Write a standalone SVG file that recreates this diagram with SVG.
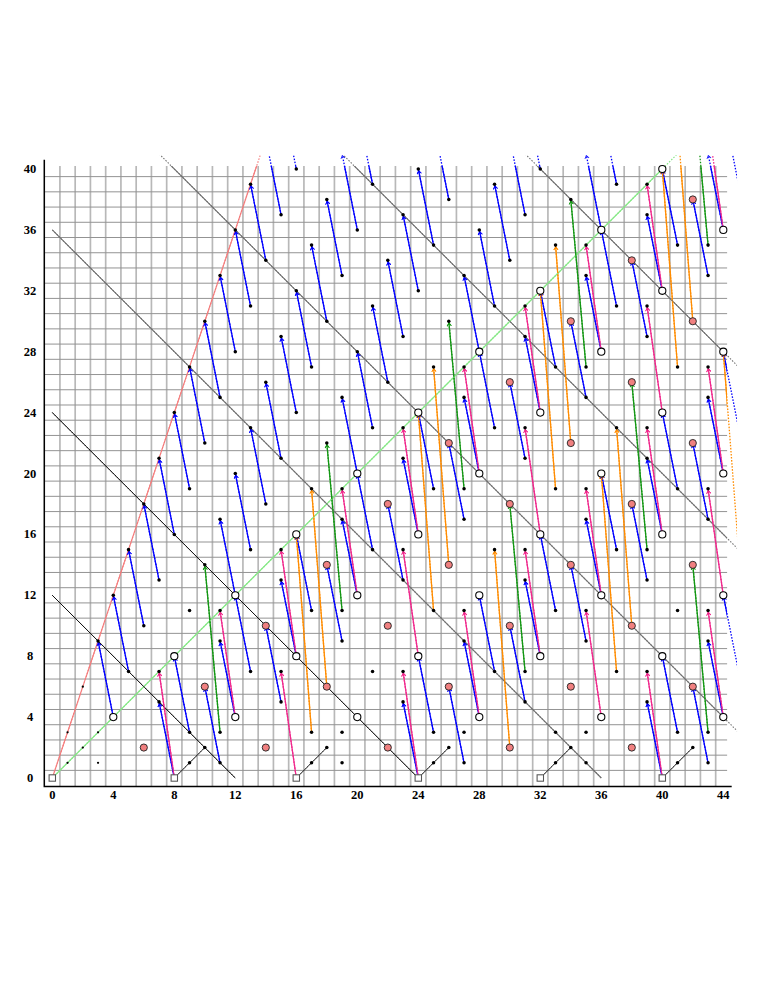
<svg xmlns="http://www.w3.org/2000/svg" width="765" height="990" viewBox="0 0 765 990">
<style>
.gv{stroke:#b8b8b8;stroke-width:.11;fill:none}
.gh{stroke:#929292;stroke-width:.065;fill:none}
.ax{stroke:#000;stroke-width:.1;fill:none}
.red{stroke:#f47c7c;stroke-width:.075;fill:none}
.lg{stroke:#86e886;stroke-width:.08;fill:none}
.dk{stroke:#111;stroke-width:.065;fill:none}
.gr{stroke:#707070;stroke-width:.07;fill:none}
.sl{stroke:#333;stroke-width:.065;fill:none}
.cb{stroke:#0000ff;stroke-width:.085;fill:none;marker-end:url(#mb)}
.cp{stroke:#f0288c;stroke-width:.085;fill:none;marker-end:url(#mp)}
.cg{stroke:#139613;stroke-width:.085;fill:none;marker-end:url(#mg)}
.co{stroke:#ff8c00;stroke-width:.085;fill:none;marker-end:url(#mo)}
text{font-family:"Liberation Serif","DejaVu Serif",serif;font-weight:bold;font-size:12.5px;fill:#000;text-anchor:middle}
</style>
<defs>
<clipPath id="cin"><rect x="-2" y="-2" width="46.25" height="42.2"/></clipPath>
<clipPath id="cout"><rect x="-2" y="-2" width="46.9" height="42.9"/></clipPath>
<marker id="mb" markerUnits="userSpaceOnUse" orient="auto" overflow="visible" markerWidth="1" markerHeight="1"><path d="M-.07 0L-.3 .16L-.33 .12L-.17 0L-.33 -.12L-.3 -.16Z" fill="#0000ff"/></marker>
<marker id="mp" markerUnits="userSpaceOnUse" orient="auto" overflow="visible" markerWidth="1" markerHeight="1"><path d="M-.07 0L-.3 .16L-.33 .12L-.17 0L-.33 -.12L-.3 -.16Z" fill="#f0288c"/></marker>
<marker id="mg" markerUnits="userSpaceOnUse" orient="auto" overflow="visible" markerWidth="1" markerHeight="1"><path d="M-.07 0L-.3 .16L-.33 .12L-.17 0L-.33 -.12L-.3 -.16Z" fill="#139613"/></marker>
<marker id="mo" markerUnits="userSpaceOnUse" orient="auto" overflow="visible" markerWidth="1" markerHeight="1"><path d="M-.07 0L-.3 .16L-.33 .12L-.17 0L-.33 -.12L-.3 -.16Z" fill="#ff8c00"/></marker>
<circle id="dt" r=".115" fill="#000"/>
<circle id="sd" r=".075" fill="#000"/>
<circle id="oc" r=".235" fill="#fff" stroke="#000" stroke-width=".07"/>
<circle id="rc" r=".235" fill="#f08080" stroke="#222" stroke-width=".06"/>
<rect id="sq" x="-.21" y="-.21" width=".42" height=".42" fill="#fff" stroke="#555" stroke-width=".07"/>
</defs>
<g transform="matrix(15.25 0 0 -15.225 52.3 778)">
<g id="grid">
<path class="gv" d="M.5 -.56V40.2M1.5 -.56V40.2M2.5 -.56V40.2M3.5 -.56V40.2M4.5 -.56V40.2M5.5 -.56V40.2M6.5 -.56V40.2M7.5 -.56V40.2M8.5 -.56V40.2M9.5 -.56V40.2M10.5 -.56V40.2M11.5 -.56V40.2M12.5 -.56V40.2M13.5 -.56V40.2M14.5 -.56V40.2M15.5 -.56V40.2M16.5 -.56V40.2M17.5 -.56V40.2M18.5 -.56V40.2M19.5 -.56V40.2M20.5 -.56V40.2M21.5 -.56V40.2M22.5 -.56V40.2M23.5 -.56V40.2M24.5 -.56V40.2M25.5 -.56V40.2M26.5 -.56V40.2M27.5 -.56V40.2M28.5 -.56V40.2M29.5 -.56V40.2M30.5 -.56V40.2M31.5 -.56V40.2M32.5 -.56V40.2M33.5 -.56V40.2M34.5 -.56V40.2M35.5 -.56V40.2M36.5 -.56V40.2M37.5 -.56V40.2M38.5 -.56V40.2M39.5 -.56V40.2M40.5 -.56V40.2M41.5 -.56V40.2M42.5 -.56V40.2M43.5 -.56V40.2"/>
<path class="gh" d="M-.52 .5H44.25M-.52 1.5H44.25M-.52 2.5H44.25M-.52 3.5H44.25M-.52 4.5H44.25M-.52 5.5H44.25M-.52 6.5H44.25M-.52 7.5H44.25M-.52 8.5H44.25M-.52 9.5H44.25M-.52 10.5H44.25M-.52 11.5H44.25M-.52 12.5H44.25M-.52 13.5H44.25M-.52 14.5H44.25M-.52 15.5H44.25M-.52 16.5H44.25M-.52 17.5H44.25M-.52 18.5H44.25M-.52 19.5H44.25M-.52 20.5H44.25M-.52 21.5H44.25M-.52 22.5H44.25M-.52 23.5H44.25M-.52 24.5H44.25M-.52 25.5H44.25M-.52 26.5H44.25M-.52 27.5H44.25M-.52 28.5H44.25M-.52 29.5H44.25M-.52 30.5H44.25M-.52 31.5H44.25M-.52 32.5H44.25M-.52 33.5H44.25M-.52 34.5H44.25M-.52 35.5H44.25M-.52 36.5H44.25M-.52 37.5H44.25M-.52 38.5H44.25M-.52 39.5H44.25"/>
<path class="ax" d="M-.525 40.6V-.56H44.55"/>
</g>
<g clip-path="url(#cin)">
<g id="guides">
<path class="red" d="M0 0L14 42"/>
<path class="lg" d="M0 0L42 42"/>
<path class="dk" d="M0 12L12 0M0 24L24 0"/>
<path class="gr" d="M0 36L36 0M7 41L45 3M19 41L45 15M31 41L45 27"/>
<path class="sl" d="M8 0L10 2M16 0L18 2M24 0L26 2M32 0L34 2M40 0L42 2"/>
</g>
<g id="connectors">
<path class="cb" d="M4 4L3 9"/><path class="cb" d="M6 10L5 15"/><path class="cb" d="M12 12L11 17"/><path class="cb" d="M8 16L7 21"/><path class="cb" d="M14 18L13 23"/><path class="cb" d="M10 22L9 27"/><path class="cb" d="M20 20L19 25"/><path class="cb" d="M16 24L15 29"/><path class="cb" d="M12 28L11 33"/><path class="cb" d="M22 26L21 31"/><path class="cb" d="M18 30L17 35"/><path class="cb" d="M14 34L13 39"/><path class="cb" d="M28 28L27 33"/><path class="cb" d="M24 32L23 37"/><path class="cb" d="M20 36L19 41"/><path class="cb" d="M16 40L15 45"/><path class="cb" d="M30 34L29 39"/><path class="cb" d="M26 38L25 43"/><path class="cb" d="M36 36L35 41"/><path class="cb" d="M32 40L31 45"/>
<path class="cb" d="M5 7L4 12"/><path class="cb" d="M7 13L6 18"/><path class="cb" d="M9 19L8 24"/><path class="cb" d="M13 15L12 20"/><path class="cb" d="M11 25L10 30"/><path class="cb" d="M15 21L14 26"/><path class="cb" d="M13 31L12 36"/><path class="cb" d="M17 27L16 32"/><path class="cb" d="M21 23L20 28"/><path class="cb" d="M15 37L14 42"/><path class="cb" d="M19 33L18 38"/><path class="cb" d="M23 29L22 34"/><path class="cb" d="M21 39L20 44"/><path class="cb" d="M25 35L24 40"/><path class="cb" d="M29 31L28 36"/><path class="cb" d="M31 37L30 42"/><path class="cb" d="M37 39L36 44"/>
<path class="cb" d="M8 0L7 5"/><path class="cb" d="M12 4L11 9"/><path class="cb" d="M16 8L15 13"/><path class="cb" d="M20 12L19 17"/><path class="cb" d="M24 16L23 21"/><path class="cb" d="M28 20L27 25"/><path class="cb" d="M32 24L31 29"/><path class="cb" d="M36 28L35 33"/><path class="cb" d="M40 32L39 37"/><path class="cb" d="M44 36L43 41"/><path class="cb" d="M24 0L23 5"/><path class="cb" d="M28 4L27 9"/><path class="cb" d="M32 8L31 13"/><path class="cb" d="M36 12L35 17"/><path class="cb" d="M40 16L39 21"/><path class="cb" d="M44 20L43 25"/><path class="cb" d="M40 0L39 5"/><path class="cb" d="M44 4L43 9"/>
<path class="cb" d="M9 3L8 8"/><path class="cb" d="M13 7L12 12"/><path class="cb" d="M17 11L16 16"/><path class="cb" d="M21 15L20 20"/><path class="cb" d="M25 19L24 24"/><path class="cb" d="M29 23L28 28"/><path class="cb" d="M33 27L32 32"/><path class="cb" d="M37 31L36 36"/><path class="cb" d="M41 35L40 40"/><path class="cb" d="M45 39L44 44"/>
<path class="cb" d="M11 1L10 6"/><path class="cb" d="M15 5L14 10"/><path class="cb" d="M19 9L18 14"/><path class="cb" d="M23 13L22 18"/><path class="cb" d="M27 17L26 22"/><path class="cb" d="M31 21L30 26"/><path class="cb" d="M35 25L34 30"/><path class="cb" d="M39 29L38 34"/><path class="cb" d="M43 33L42 38"/>
<path class="cb" d="M25 3L24 8"/><path class="cb" d="M29 7L28 12"/><path class="cb" d="M33 11L32 16"/><path class="cb" d="M37 15L36 20"/><path class="cb" d="M41 19L40 24"/><path class="cb" d="M45 23L44 28"/>
<path class="cb" d="M27 1L26 6"/><path class="cb" d="M31 5L30 10"/><path class="cb" d="M35 9L34 14"/><path class="cb" d="M39 13L38 18"/><path class="cb" d="M43 17L42 22"/><path class="cb" d="M41 3L40 8"/><path class="cb" d="M45 7L44 12"/><path class="cb" d="M43 1L42 6"/>
<path class="cp" d="M8 0L7 7"/><path class="cp" d="M16 0L15 7"/><path class="cp" d="M24 0L23 7"/><path class="cp" d="M40 0L39 7"/><path class="cp" d="M12 4L11 11"/><path class="cp" d="M28 4L27 11"/><path class="cp" d="M36 4L35 11"/><path class="cp" d="M44 4L43 11"/><path class="cp" d="M16 8L15 15"/><path class="cp" d="M24 8L23 15"/><path class="cp" d="M32 8L31 15"/><path class="cp" d="M20 12L19 19"/><path class="cp" d="M36 12L35 19"/><path class="cp" d="M44 12L43 19"/><path class="cp" d="M24 16L23 23"/><path class="cp" d="M32 16L31 23"/><path class="cp" d="M40 16L39 23"/><path class="cp" d="M28 20L27 27"/><path class="cp" d="M44 20L43 27"/><path class="cp" d="M32 24L31 31"/><path class="cp" d="M40 24L39 31"/><path class="cp" d="M36 28L35 35"/><path class="cp" d="M40 32L39 39"/><path class="cp" d="M44 36L43 43"/>
<path class="cg" d="M11 3L10 14"/><path class="cg" d="M19 11L18 22"/><path class="cg" d="M27 19L26 30"/><path class="cg" d="M35 27L34 38"/><path class="cg" d="M43 35L42 46"/><path class="cg" d="M31 7L30 18"/><path class="cg" d="M39 15L38 26"/><path class="cg" d="M43 3L42 14"/>
<path class="co" d="M17 3L16 16"/><path class="co" d="M25 11L24 24"/><path class="co" d="M33 19L32 32"/><path class="co" d="M41 27L40 40"/><path class="co" d="M18 6L17 19"/><path class="co" d="M26 14L25 27"/><path class="co" d="M34 22L33 35"/><path class="co" d="M42 30L41 43"/><path class="co" d="M30 2L29 15"/><path class="co" d="M38 10L37 23"/><path class="co" d="M37 7L36 20"/><path class="co" d="M45 15L44 28"/>
</g>
</g>
<g clip-path="url(#cout)" stroke-dasharray=".1 .1">
<use href="#guides"/>
<use href="#connectors"/>
</g>
<g id="nodes">
<g id="n0-0"><use href="#sq" x="0" y="0"/></g><g id="n8-0"><use href="#sq" x="8" y="0"/></g><g id="n16-0"><use href="#sq" x="16" y="0"/></g><g id="n24-0"><use href="#sq" x="24" y="0"/></g><g id="n32-0"><use href="#sq" x="32" y="0"/></g><g id="n40-0"><use href="#sq" x="40" y="0"/></g>
<g id="n1-1"><use href="#sd" x="1" y="1"/></g><g id="n2-2"><use href="#sd" x="2" y="2"/></g><g id="n3-3"><use href="#sd" x="3" y="3"/></g><g id="n1-3"><use href="#sd" x="1" y="3"/></g><g id="n3-1"><use href="#sd" x="3" y="1"/></g><g id="n2-6"><use href="#sd" x="2" y="6"/></g>
<g id="n4-4"><use href="#oc" x="4" y="4"/></g><g id="n12-4"><use href="#oc" x="12" y="4"/></g><g id="n20-4"><use href="#oc" x="20" y="4"/></g><g id="n28-4"><use href="#oc" x="28" y="4"/></g><g id="n36-4"><use href="#oc" x="36" y="4"/></g><g id="n44-4"><use href="#oc" x="44" y="4"/></g>
<g id="n8-8"><use href="#oc" x="8" y="8"/></g><g id="n16-8"><use href="#oc" x="16" y="8"/></g><g id="n24-8"><use href="#oc" x="24" y="8"/></g><g id="n32-8"><use href="#oc" x="32" y="8"/></g><g id="n40-8"><use href="#oc" x="40" y="8"/></g>
<g id="n12-12"><use href="#oc" x="12" y="12"/></g><g id="n20-12"><use href="#oc" x="20" y="12"/></g><g id="n28-12"><use href="#oc" x="28" y="12"/></g><g id="n36-12"><use href="#oc" x="36" y="12"/></g><g id="n44-12"><use href="#oc" x="44" y="12"/></g>
<g id="n16-16"><use href="#oc" x="16" y="16"/></g><g id="n24-16"><use href="#oc" x="24" y="16"/></g><g id="n32-16"><use href="#oc" x="32" y="16"/></g><g id="n40-16"><use href="#oc" x="40" y="16"/></g>
<g id="n20-20"><use href="#oc" x="20" y="20"/></g><g id="n28-20"><use href="#oc" x="28" y="20"/></g><g id="n36-20"><use href="#oc" x="36" y="20"/></g><g id="n44-20"><use href="#oc" x="44" y="20"/></g>
<g id="n24-24"><use href="#oc" x="24" y="24"/></g><g id="n32-24"><use href="#oc" x="32" y="24"/></g><g id="n40-24"><use href="#oc" x="40" y="24"/></g>
<g id="n28-28"><use href="#oc" x="28" y="28"/></g><g id="n36-28"><use href="#oc" x="36" y="28"/></g><g id="n44-28"><use href="#oc" x="44" y="28"/></g>
<g id="n32-32"><use href="#oc" x="32" y="32"/></g><g id="n40-32"><use href="#oc" x="40" y="32"/></g><g id="n36-36"><use href="#oc" x="36" y="36"/></g><g id="n44-36"><use href="#oc" x="44" y="36"/></g><g id="n40-40"><use href="#oc" x="40" y="40"/></g>
<g id="n6-2"><use href="#rc" x="6" y="2"/></g><g id="n14-2"><use href="#rc" x="14" y="2"/></g><g id="n22-2"><use href="#rc" x="22" y="2"/></g><g id="n30-2"><use href="#rc" x="30" y="2"/></g><g id="n38-2"><use href="#rc" x="38" y="2"/></g>
<g id="n10-6"><use href="#rc" x="10" y="6"/></g><g id="n18-6"><use href="#rc" x="18" y="6"/></g><g id="n26-6"><use href="#rc" x="26" y="6"/></g><g id="n34-6"><use href="#rc" x="34" y="6"/></g><g id="n42-6"><use href="#rc" x="42" y="6"/></g>
<g id="n14-10"><use href="#rc" x="14" y="10"/></g><g id="n22-10"><use href="#rc" x="22" y="10"/></g><g id="n30-10"><use href="#rc" x="30" y="10"/></g><g id="n38-10"><use href="#rc" x="38" y="10"/></g>
<g id="n18-14"><use href="#rc" x="18" y="14"/></g><g id="n26-14"><use href="#rc" x="26" y="14"/></g><g id="n34-14"><use href="#rc" x="34" y="14"/></g><g id="n42-14"><use href="#rc" x="42" y="14"/></g>
<g id="n22-18"><use href="#rc" x="22" y="18"/></g><g id="n30-18"><use href="#rc" x="30" y="18"/></g><g id="n38-18"><use href="#rc" x="38" y="18"/></g>
<g id="n26-22"><use href="#rc" x="26" y="22"/></g><g id="n34-22"><use href="#rc" x="34" y="22"/></g><g id="n42-22"><use href="#rc" x="42" y="22"/></g>
<g id="n30-26"><use href="#rc" x="30" y="26"/></g><g id="n38-26"><use href="#rc" x="38" y="26"/></g><g id="n34-30"><use href="#rc" x="34" y="30"/></g><g id="n42-30"><use href="#rc" x="42" y="30"/></g><g id="n38-34"><use href="#rc" x="38" y="34"/></g><g id="n42-38"><use href="#rc" x="42" y="38"/></g>
<g id="n6-10"><use href="#dt" x="6" y="10"/></g><g id="n4-12"><use href="#dt" x="4" y="12"/></g><g id="n10-14"><use href="#dt" x="10" y="14"/></g><g id="n8-16"><use href="#dt" x="8" y="16"/></g><g id="n6-18"><use href="#dt" x="6" y="18"/></g><g id="n14-18"><use href="#dt" x="14" y="18"/></g><g id="n12-20"><use href="#dt" x="12" y="20"/></g><g id="n10-22"><use href="#dt" x="10" y="22"/></g><g id="n8-24"><use href="#dt" x="8" y="24"/></g>
<g id="n18-22"><use href="#dt" x="18" y="22"/></g><g id="n16-24"><use href="#dt" x="16" y="24"/></g><g id="n14-26"><use href="#dt" x="14" y="26"/></g><g id="n12-28"><use href="#dt" x="12" y="28"/></g><g id="n10-30"><use href="#dt" x="10" y="30"/></g>
<g id="n22-26"><use href="#dt" x="22" y="26"/></g><g id="n20-28"><use href="#dt" x="20" y="28"/></g><g id="n18-30"><use href="#dt" x="18" y="30"/></g><g id="n16-32"><use href="#dt" x="16" y="32"/></g><g id="n14-34"><use href="#dt" x="14" y="34"/></g><g id="n12-36"><use href="#dt" x="12" y="36"/></g>
<g id="n26-30"><use href="#dt" x="26" y="30"/></g><g id="n24-32"><use href="#dt" x="24" y="32"/></g><g id="n22-34"><use href="#dt" x="22" y="34"/></g><g id="n20-36"><use href="#dt" x="20" y="36"/></g><g id="n18-38"><use href="#dt" x="18" y="38"/></g><g id="n16-40"><use href="#dt" x="16" y="40"/></g>
<g id="n30-34"><use href="#dt" x="30" y="34"/></g><g id="n28-36"><use href="#dt" x="28" y="36"/></g><g id="n26-38"><use href="#dt" x="26" y="38"/></g><g id="n24-40"><use href="#dt" x="24" y="40"/></g><g id="n34-38"><use href="#dt" x="34" y="38"/></g><g id="n32-40"><use href="#dt" x="32" y="40"/></g>
<g id="n3-9"><use href="#dt" x="3" y="9"/></g><g id="n5-7"><use href="#dt" x="5" y="7"/></g><g id="n7-5"><use href="#dt" x="7" y="5"/></g><g id="n9-3"><use href="#dt" x="9" y="3"/></g><g id="n11-1"><use href="#dt" x="11" y="1"/></g>
<g id="n5-15"><use href="#dt" x="5" y="15"/></g><g id="n7-13"><use href="#dt" x="7" y="13"/></g><g id="n9-11"><use href="#dt" x="9" y="11"/></g><g id="n11-9"><use href="#dt" x="11" y="9"/></g><g id="n13-7"><use href="#dt" x="13" y="7"/></g><g id="n15-5"><use href="#dt" x="15" y="5"/></g><g id="n17-3"><use href="#dt" x="17" y="3"/></g><g id="n19-1"><use href="#dt" x="19" y="1"/></g>
<g id="n7-21"><use href="#dt" x="7" y="21"/></g><g id="n9-19"><use href="#dt" x="9" y="19"/></g><g id="n11-17"><use href="#dt" x="11" y="17"/></g><g id="n13-15"><use href="#dt" x="13" y="15"/></g><g id="n15-13"><use href="#dt" x="15" y="13"/></g><g id="n17-11"><use href="#dt" x="17" y="11"/></g><g id="n19-9"><use href="#dt" x="19" y="9"/></g><g id="n21-7"><use href="#dt" x="21" y="7"/></g><g id="n23-5"><use href="#dt" x="23" y="5"/></g><g id="n25-3"><use href="#dt" x="25" y="3"/></g><g id="n27-1"><use href="#dt" x="27" y="1"/></g>
<g id="n9-27"><use href="#dt" x="9" y="27"/></g><g id="n11-25"><use href="#dt" x="11" y="25"/></g><g id="n13-23"><use href="#dt" x="13" y="23"/></g><g id="n15-21"><use href="#dt" x="15" y="21"/></g><g id="n17-19"><use href="#dt" x="17" y="19"/></g><g id="n19-17"><use href="#dt" x="19" y="17"/></g><g id="n21-15"><use href="#dt" x="21" y="15"/></g><g id="n23-13"><use href="#dt" x="23" y="13"/></g><g id="n25-11"><use href="#dt" x="25" y="11"/></g><g id="n27-9"><use href="#dt" x="27" y="9"/></g><g id="n29-7"><use href="#dt" x="29" y="7"/></g><g id="n31-5"><use href="#dt" x="31" y="5"/></g><g id="n33-3"><use href="#dt" x="33" y="3"/></g><g id="n35-1"><use href="#dt" x="35" y="1"/></g>
<g id="n11-33"><use href="#dt" x="11" y="33"/></g><g id="n13-31"><use href="#dt" x="13" y="31"/></g><g id="n15-29"><use href="#dt" x="15" y="29"/></g><g id="n17-27"><use href="#dt" x="17" y="27"/></g><g id="n19-25"><use href="#dt" x="19" y="25"/></g><g id="n21-23"><use href="#dt" x="21" y="23"/></g><g id="n23-21"><use href="#dt" x="23" y="21"/></g><g id="n25-19"><use href="#dt" x="25" y="19"/></g><g id="n27-17"><use href="#dt" x="27" y="17"/></g><g id="n29-15"><use href="#dt" x="29" y="15"/></g><g id="n31-13"><use href="#dt" x="31" y="13"/></g><g id="n33-11"><use href="#dt" x="33" y="11"/></g><g id="n35-9"><use href="#dt" x="35" y="9"/></g><g id="n37-7"><use href="#dt" x="37" y="7"/></g><g id="n39-5"><use href="#dt" x="39" y="5"/></g><g id="n41-3"><use href="#dt" x="41" y="3"/></g><g id="n43-1"><use href="#dt" x="43" y="1"/></g>
<g id="n13-39"><use href="#dt" x="13" y="39"/></g><g id="n15-37"><use href="#dt" x="15" y="37"/></g><g id="n17-35"><use href="#dt" x="17" y="35"/></g><g id="n19-33"><use href="#dt" x="19" y="33"/></g><g id="n21-31"><use href="#dt" x="21" y="31"/></g><g id="n23-29"><use href="#dt" x="23" y="29"/></g><g id="n25-27"><use href="#dt" x="25" y="27"/></g><g id="n27-25"><use href="#dt" x="27" y="25"/></g><g id="n29-23"><use href="#dt" x="29" y="23"/></g><g id="n31-21"><use href="#dt" x="31" y="21"/></g><g id="n33-19"><use href="#dt" x="33" y="19"/></g><g id="n35-17"><use href="#dt" x="35" y="17"/></g><g id="n37-15"><use href="#dt" x="37" y="15"/></g><g id="n39-13"><use href="#dt" x="39" y="13"/></g><g id="n41-11"><use href="#dt" x="41" y="11"/></g><g id="n43-9"><use href="#dt" x="43" y="9"/></g>
<g id="n21-39"><use href="#dt" x="21" y="39"/></g><g id="n23-37"><use href="#dt" x="23" y="37"/></g><g id="n25-35"><use href="#dt" x="25" y="35"/></g><g id="n27-33"><use href="#dt" x="27" y="33"/></g><g id="n29-31"><use href="#dt" x="29" y="31"/></g><g id="n31-29"><use href="#dt" x="31" y="29"/></g><g id="n33-27"><use href="#dt" x="33" y="27"/></g><g id="n35-25"><use href="#dt" x="35" y="25"/></g><g id="n37-23"><use href="#dt" x="37" y="23"/></g><g id="n39-21"><use href="#dt" x="39" y="21"/></g><g id="n41-19"><use href="#dt" x="41" y="19"/></g><g id="n43-17"><use href="#dt" x="43" y="17"/></g>
<g id="n29-39"><use href="#dt" x="29" y="39"/></g><g id="n31-37"><use href="#dt" x="31" y="37"/></g><g id="n33-35"><use href="#dt" x="33" y="35"/></g><g id="n35-33"><use href="#dt" x="35" y="33"/></g><g id="n37-31"><use href="#dt" x="37" y="31"/></g><g id="n39-29"><use href="#dt" x="39" y="29"/></g><g id="n41-27"><use href="#dt" x="41" y="27"/></g><g id="n43-25"><use href="#dt" x="43" y="25"/></g>
<g id="n37-39"><use href="#dt" x="37" y="39"/></g><g id="n39-37"><use href="#dt" x="39" y="37"/></g><g id="n41-35"><use href="#dt" x="41" y="35"/></g><g id="n43-33"><use href="#dt" x="43" y="33"/></g>
<g id="n7-7"><use href="#dt" x="7" y="7"/></g><g id="n11-11"><use href="#dt" x="11" y="11"/></g><g id="n15-15"><use href="#dt" x="15" y="15"/></g><g id="n19-19"><use href="#dt" x="19" y="19"/></g><g id="n23-23"><use href="#dt" x="23" y="23"/></g><g id="n27-27"><use href="#dt" x="27" y="27"/></g><g id="n31-31"><use href="#dt" x="31" y="31"/></g><g id="n35-35"><use href="#dt" x="35" y="35"/></g><g id="n39-39"><use href="#dt" x="39" y="39"/></g>
<g id="n11-3"><use href="#dt" x="11" y="3"/></g><g id="n15-7"><use href="#dt" x="15" y="7"/></g><g id="n19-11"><use href="#dt" x="19" y="11"/></g><g id="n23-15"><use href="#dt" x="23" y="15"/></g><g id="n27-19"><use href="#dt" x="27" y="19"/></g><g id="n31-23"><use href="#dt" x="31" y="23"/></g><g id="n35-27"><use href="#dt" x="35" y="27"/></g><g id="n39-31"><use href="#dt" x="39" y="31"/></g><g id="n43-35"><use href="#dt" x="43" y="35"/></g>
<g id="n19-3"><use href="#dt" x="19" y="3"/></g><g id="n23-7"><use href="#dt" x="23" y="7"/></g><g id="n27-11"><use href="#dt" x="27" y="11"/></g><g id="n31-15"><use href="#dt" x="31" y="15"/></g><g id="n35-19"><use href="#dt" x="35" y="19"/></g><g id="n39-23"><use href="#dt" x="39" y="23"/></g><g id="n43-27"><use href="#dt" x="43" y="27"/></g>
<g id="n27-3"><use href="#dt" x="27" y="3"/></g><g id="n31-7"><use href="#dt" x="31" y="7"/></g><g id="n35-11"><use href="#dt" x="35" y="11"/></g><g id="n39-15"><use href="#dt" x="39" y="15"/></g><g id="n43-19"><use href="#dt" x="43" y="19"/></g>
<g id="n35-3"><use href="#dt" x="35" y="3"/></g><g id="n39-7"><use href="#dt" x="39" y="7"/></g><g id="n43-11"><use href="#dt" x="43" y="11"/></g><g id="n43-3"><use href="#dt" x="43" y="3"/></g>
<g id="n9-1"><use href="#dt" x="9" y="1"/></g><g id="n10-2"><use href="#dt" x="10" y="2"/></g><g id="n17-1"><use href="#dt" x="17" y="1"/></g><g id="n18-2"><use href="#dt" x="18" y="2"/></g><g id="n25-1"><use href="#dt" x="25" y="1"/></g><g id="n26-2"><use href="#dt" x="26" y="2"/></g><g id="n33-1"><use href="#dt" x="33" y="1"/></g><g id="n34-2"><use href="#dt" x="34" y="2"/></g><g id="n41-1"><use href="#dt" x="41" y="1"/></g><g id="n42-2"><use href="#dt" x="42" y="2"/></g>
</g>
</g>
<g id="labels">
<text x="52.3" y="799">0</text><text x="113.3" y="799">4</text><text x="174.3" y="799">8</text><text x="235.3" y="799">12</text><text x="296.3" y="799">16</text><text x="357.3" y="799">20</text><text x="418.3" y="799">24</text><text x="479.3" y="799">28</text><text x="540.3" y="799">32</text><text x="601.3" y="799">36</text><text x="662.3" y="799">40</text><text x="723.3" y="799">44</text>
<text x="30" y="782">0</text><text x="30" y="721.1">4</text><text x="30" y="660.2">8</text><text x="30" y="599.3">12</text><text x="30" y="538.4">16</text><text x="30" y="477.5">20</text><text x="30" y="416.6">24</text><text x="30" y="355.7">28</text><text x="30" y="294.8">32</text><text x="30" y="233.9">36</text><text x="30" y="173">40</text>
</g>
</svg>
